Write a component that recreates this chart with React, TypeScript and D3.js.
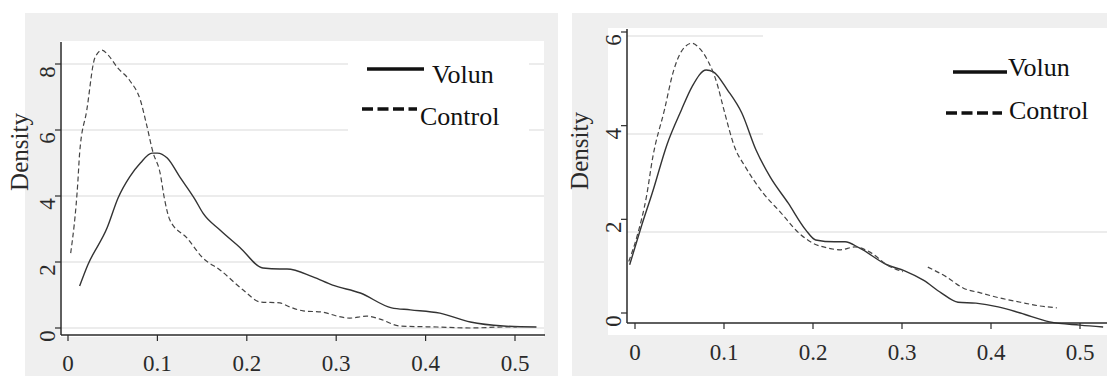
import React from 'react';
import * as d3 from 'd3';

// left panel: kernel densities
const leftVolunX = [0.013, 0.022, 0.044, 0.056, 0.069, 0.081, 0.094, 0.1, 0.111, 0.125, 0.142, 0.151, 0.17, 0.192, 0.218, 0.237, 0.245, 0.274, 0.296, 0.327, 0.362, 0.383, 0.416, 0.45, 0.487, 0.524];
const leftVolunY = [1.27, 1.9, 3.05, 3.94, 4.58, 5.0, 5.3, 5.3, 5.15, 4.58, 3.9, 3.48, 2.97, 2.45, 1.82, 1.79, 1.79, 1.55, 1.3, 1.06, 0.61, 0.55, 0.45, 0.18, 0.06, 0.03];
const leftControlX = [0.003, 0.011, 0.013, 0.021, 0.03, 0.038, 0.045, 0.055, 0.069, 0.081, 0.088, 0.095, 0.103, 0.108, 0.114, 0.133, 0.151, 0.17, 0.196, 0.215, 0.237, 0.248, 0.263, 0.285, 0.301, 0.315, 0.334, 0.349, 0.371, 0.413, 0.45, 0.487, 0.502];
const leftControlY = [2.27, 4.42, 5.3, 6.6, 8.18, 8.42, 8.27, 7.9, 7.5, 6.9, 6.15, 5.33, 4.7, 3.9, 3.27, 2.73, 2.12, 1.76, 1.15, 0.79, 0.76, 0.64, 0.52, 0.48, 0.36, 0.3, 0.36, 0.27, 0.06, 0.03, 0.0, 0.03, 0.03];

// right panel
const rightVolunX = [-0.006, 0.007, 0.02, 0.036, 0.052, 0.064, 0.08, 0.088, 0.104, 0.12, 0.136, 0.152, 0.172, 0.192, 0.203, 0.224, 0.236, 0.252, 0.283, 0.303, 0.324, 0.344, 0.363, 0.383, 0.408, 0.433, 0.466, 0.5, 0.526];
const rightVolunY = [1.03, 1.84, 2.6, 3.6, 4.33, 4.83, 5.19, 5.15, 4.76, 4.27, 3.48, 2.9, 2.35, 1.77, 1.56, 1.52, 1.52, 1.39, 1.03, 0.9, 0.7, 0.43, 0.23, 0.21, 0.13, 0.0, -0.19, -0.26, -0.3];
// null = break in the dashed curve
const rightControlX = [-0.007, 0.002, 0.013, 0.02, 0.033, 0.043, 0.052, 0.064, 0.072, 0.082, 0.092, 0.1, 0.112, 0.124, 0.144, 0.164, 0.184, 0.2, 0.216, 0.231, 0.247, 0.264, 0.283, 0.301, 0.315, 0.329, 0.35, 0.369, 0.388, 0.41, 0.433, 0.455, 0.474];
const rightControlY = [1.1, 1.62, 2.5, 3.33, 4.33, 5.15, 5.58, 5.76, 5.66, 5.38, 4.91, 4.33, 3.54, 3.12, 2.56, 2.14, 1.71, 1.49, 1.39, 1.35, 1.41, 1.3, 1.03, 0.88, null, 0.98, 0.77, 0.53, 0.43, 0.32, 0.23, 0.15, 0.11];

const xTicks = [0, 0.1, 0.2, 0.3, 0.4, 0.5];
const leftYTicks = [0, 2, 4, 6, 8];
const rightYTicks = [0, 2, 4, 6];
const legendLabels = ['Volun', 'Control'];

const FONT = '"Liberation Serif", "Times New Roman", serif';
const INK = '#2a2a2a';

const toPts = (xs, ys) => xs.map((x, i) => [x, ys[i]]);

const Panel = ({ cfg }) => {
  const x = d3.scaleLinear().domain([0, 0.5]).range(cfg.xRange);
  const y = d3.scaleLinear().domain(cfg.yDomain).range(cfg.yRange);
  const gy = cfg.gridScale || y;
  const line = d3
    .line()
    .defined(d => d[1] !== null)
    .x(d => x(d[0]))
    .y(d => y(d[1]))
    .curve(d3.curveMonotoneX);
  const [px0, px1] = cfg.plotX;
  const [py0, py1] = cfg.plotY;
  const yAxisX = cfg.axisX;
  const xAxisY = cfg.axisY;

  return (
    <g>
      <rect x={cfg.bg[0]} y={cfg.bg[1]} width={cfg.bg[2]} height={cfg.bg[3]} fill="#efefef" />
      <rect x={px0} y={py0} width={px1 - px0} height={py1 - py0} fill="#fff" />

      {/* grid */}
      {cfg.grid.map(g => (
        <line key={g.v} x1={yAxisX} x2={g.end} y1={gy(g.v)} y2={gy(g.v)} stroke="#e6e6e6" strokeWidth={1.5} />
      ))}
      <rect x={cfg.legendBox[0]} y={cfg.legendBox[1]} width={cfg.legendBox[2]} height={cfg.legendBox[3]} fill="#fff" />

      {/* curves */}
      <path d={line(cfg.volun)} fill="none" stroke="#333" strokeWidth={1.4} />
      <path d={line(cfg.control)} fill="none" stroke="#444" strokeWidth={1.2} strokeDasharray="5,3" />

      {/* axes */}
      <line x1={yAxisX} x2={yAxisX} y1={cfg.axisTop} y2={xAxisY} stroke={INK} strokeWidth={1.5} />
      <line x1={yAxisX} x2={cfg.axisRight} y1={xAxisY} y2={xAxisY} stroke={INK} strokeWidth={1.5} />
      {cfg.yTicks.map(t => (
        <g key={t}>
          <line x1={yAxisX - 6} x2={yAxisX} y1={y(t)} y2={y(t)} stroke={INK} strokeWidth={1.2} />
          <text
            transform={`translate(${cfg.yLabelX},${y(t) + 8}) rotate(-90)`}
            textAnchor="middle"
            fontFamily={FONT}
            fontSize={23}
            fill={INK}
          >
            {t}
          </text>
        </g>
      ))}
      {xTicks.map(t => (
        <g key={t}>
          <line x1={x(t)} x2={x(t)} y1={xAxisY} y2={xAxisY + 6} stroke={INK} strokeWidth={1.2} />
          <text x={x(t)} y={cfg.xLabelY} textAnchor="middle" fontFamily={FONT} fontSize={23} fill={INK}>
            {t === 0 ? '0' : t.toFixed(1)}
          </text>
        </g>
      ))}
      <text
        transform={`translate(${cfg.titleX},${cfg.titleY}) rotate(-90)`}
        textAnchor="middle"
        fontFamily={FONT}
        fontSize={25}
        fill={INK}
      >
        Density
      </text>

      {/* legend */}
      <line x1={cfg.leg[0][0]} x2={cfg.leg[0][1]} y1={cfg.leg[0][2]} y2={cfg.leg[0][2]} stroke="#111" strokeWidth={3.4} />
      <text x={cfg.leg[0][3]} y={cfg.leg[0][4]} fontFamily={FONT} fontSize={26} fill="#111">
        {legendLabels[0]}
      </text>
      <line x1={cfg.leg[1][0]} x2={cfg.leg[1][1]} y1={cfg.leg[1][2]} y2={cfg.leg[1][2]} stroke="#111" strokeWidth={3.4} strokeDasharray="11,4.5" />
      <text x={cfg.leg[1][3]} y={cfg.leg[1][4]} fontFamily={FONT} fontSize={26} fill="#111">
        {legendLabels[1]}
      </text>
    </g>
  );
};

export default function App() {
  const left = {
    bg: [25, 13, 533, 363],
    plotX: [60, 544],
    plotY: [41, 337],
    axisX: 61,
    axisY: 335,
    axisTop: 42,
    axisRight: 545,
    xRange: [68, 515],
    yDomain: [0, 8],
    yRange: [328, 64],
    yTicks: leftYTicks,
    grid: leftYTicks.map(v => ({ v, end: 544 })),
    legendBox: [348, 50, 181, 90],
    yLabelX: 55,
    xLabelY: 371,
    titleX: 28,
    titleY: 152,
    volun: toPts(leftVolunX, leftVolunY),
    control: toPts(leftControlX, leftControlY),
    leg: [
      [367, 424, 69, 432, 83],
      [362, 417, 109, 420, 125],
    ],
  };

  const right = {
    bg: [572, 13, 535, 363],
    plotX: [608, 1107],
    plotY: [28, 335],
    axisX: 627,
    axisY: 323,
    axisTop: 29,
    axisRight: 1107,
    xRange: [635, 1080],
    yDomain: [0, 6],
    yRange: [313, 32],
    gridScale: d3.scaleLinear().domain([2, 6]).range([232, 36]),
    yTicks: rightYTicks,
    grid: [
      { v: 2, end: 1107 },
      { v: 4, end: 763 },
      { v: 6, end: 763 },
    ],
    legendBox: [763, 28, 344, 0],
    yLabelX: 621,
    xLabelY: 360,
    titleX: 588,
    titleY: 151,
    volun: toPts(rightVolunX, rightVolunY),
    control: toPts(rightControlX, rightControlY),
    leg: [
      [953, 1007, 72, 1008, 76],
      [946, 1002, 113, 1009, 119],
    ],
  };

  return (
    <svg width={1107} height={376} style={{ position: 'absolute', left: 0, top: 0, background: '#fff' }}>
      <Panel cfg={left} />
      <Panel cfg={right} />
    </svg>
  );
}
